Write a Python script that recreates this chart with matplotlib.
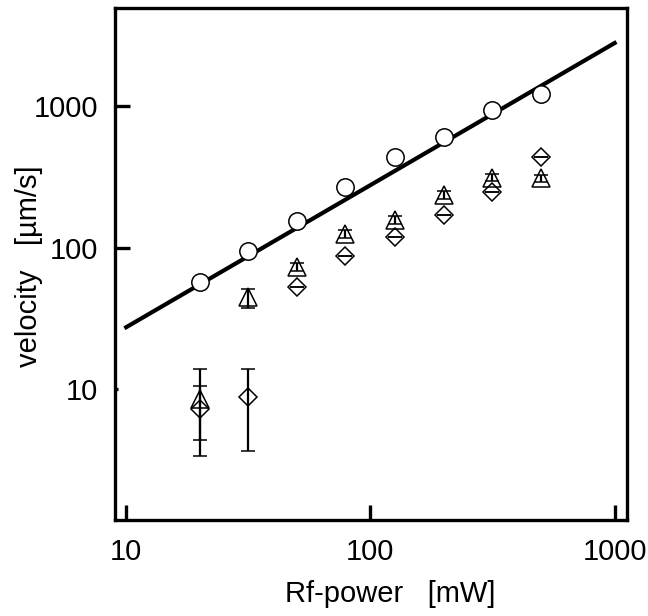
import numpy as np
import matplotlib
matplotlib.use('Agg')
import matplotlib.pyplot as plt

plt.rcParams['font.family'] = ['Liberation Sans', 'DejaVu Sans']

# Rf power [mW]
power = [20, 31.6, 50, 79, 126, 200, 316, 500]

# circles
v_circle = [57.5, 95, 155, 269, 438, 601, 937, 1216]

# triangles, with lower / upper ends of the error bars
v_tri = [8.6, 45, 73, 125, 157, 236, 312, 310]
tri_low = [4.4, 37.3, 68, 117, 147, 222, 294, 292]
tri_high = [14.0, 51, 78, 133, 167, 250, 330, 328]

# diamonds, error bars only at the two lowest powers
v_dia = [7.3, 8.9, 53, 88, 120, 171, 246, 435]
dia_low = [3.4, 3.7, 53, 88, 120, 171, 246, 435]
dia_high = [10.6, 14.0, 53, 88, 120, 171, 246, 435]

# fitted line
fit_x = [10, 1000]
fit_y = [27.5, 2780]

fig = plt.figure(figsize=(6.48, 6.16), dpi=100)
ax = fig.add_axes([0.1775, 0.1558, 0.79, 0.831])

ax.plot(fit_x, fit_y, color='black', lw=3, zorder=2)

tri_err = [np.array(v_tri) - np.array(tri_low), np.array(tri_high) - np.array(v_tri)]
ax.errorbar(power, v_tri, yerr=tri_err, fmt='^', ms=12.5, mfc='none', mec='black',
            mew=1.1, ecolor='black', elinewidth=1.6, capsize=5, capthick=1.6, zorder=3)

dia_err = [np.array(v_dia) - np.array(dia_low), np.array(dia_high) - np.array(v_dia)]
ax.errorbar(power, v_dia, yerr=dia_err, fmt='D', ms=8.7, mfc='none', mec='black',
            mew=1.1, ecolor='black', elinewidth=1.6, capsize=5, capthick=1.6, zorder=3)

ax.plot(power, v_circle, 'o', ms=12.5, mfc='white', mec='black', mew=1.1, zorder=4)

ax.set_xscale('log')
ax.set_yscale('log')
ax.set_xlim(9.0, 1123)
ax.set_ylim(1.2, 4900)

ax.set_xticks([10, 100, 1000])
ax.set_xticklabels(['10', '100', '1000'])
ax.set_yticks([10, 100, 1000])
ax.set_yticklabels(['10', '100', '1000'])
ax.minorticks_off()
ax.tick_params(direction='in', length=10.5, width=2.4, labelsize=21)
ax.tick_params(axis='x', pad=13)
ax.tick_params(axis='y', pad=12)
# the tick at 10 on the y axis is only a stub
ax.yaxis.get_major_ticks()[0].tick1line.set_markersize(2.5)

for s in ax.spines.values():
    s.set_linewidth(2.4)

ax.set_xlabel('Rf-power   [mW]', fontsize=21)
ax.set_ylabel('velocity   [µm/s]', fontsize=21)
ax.xaxis.set_label_coords(0.537, -0.118)
ax.yaxis.set_label_coords(-0.141, 0.495)

fig.savefig('out.png', dpi=100)
